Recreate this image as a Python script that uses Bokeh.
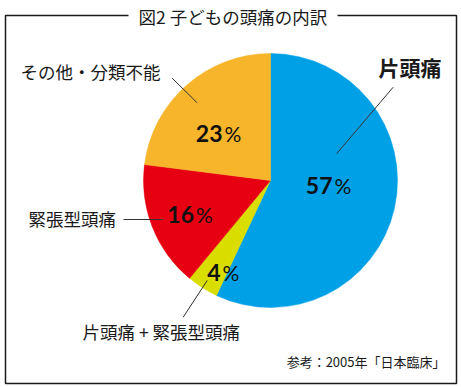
import math
from bokeh.plotting import figure
from bokeh.models import Range1d, ColumnDataSource
from bokeh.core.properties import value
from bokeh.embed import file_html
from bokeh.resources import INLINE

# ---- data ----
categories = ["片頭痛", "片頭痛 + 緊張型頭痛", "緊張型頭痛", "その他・分類不能"]
shares = [57, 4, 16, 23]
colors = ["#00a0e6", "#d9dd00", "#e60012", "#f7b52c"]
title_text = "図2 子どもの頭痛の内訳"
source_text = "参考：2005年「日本臨床」"

# ---- layout (reference pixel coordinates, y downward) ----
W, H = 461, 387
JP = "Noto Sans CJK JP"
NUM = "Lato"
def Y(v):
    return H - v

cx, cy, R = 270, 180, 127

p = figure(width=W, height=H, output_backend="svg",
           toolbar_location=None, x_range=Range1d(0, W),
           y_range=Range1d(0, H), min_border=0)
p.axis.visible = False
p.grid.visible = False
p.outline_line_color = None
p.background_fill_color = "white"
p.border_fill_color = "white"

# wedges from data
total = sum(shares)
starts, ends = [], []
acc = 0
for s in shares:
    starts.append(math.pi / 2 - 2 * math.pi * acc / total)
    acc += s
    ends.append(math.pi / 2 - 2 * math.pi * acc / total)
src = ColumnDataSource(dict(x=[cx] * len(shares), y=[Y(cy)] * len(shares),
                            start=starts, end=ends, color=colors))
p.wedge(x="x", y="y", radius=R, start_angle="start", end_angle="end",
        direction="clock", fill_color="color", line_color="color", line_width=0.5,
        source=src)

# frame with gap for title
p.line([128, 5, 5, 456, 456, 337], [Y(15), Y(15), Y(383), Y(383), Y(15), Y(15)],
       line_color="#1a1a1a", line_width=1.5)
p.text([138], [Y(16)], text=[title_text], text_font=value(JP), text_font_size="17.5px",
       text_baseline="middle", text_align="left", text_color="#1a1a1a")

# percentage labels: (digits right edge x, baseline y)
pct_pos = [(332, 184.5), (220, 272), (193.5, 213.5), (222, 133)]
for (px, py), s in zip(pct_pos, shares):
    p.text([px], [Y(py)], text=[str(s)], text_font=value(NUM), text_font_size="23px",
           text_font_style="bold", text_align="right", text_baseline="alphabetic",
           text_color="#111111")
    p.text([px + 2], [Y(py)], text=["%"], text_font=value(NUM), text_font_size="21px",
           text_align="left", text_baseline="alphabetic", text_color="#111111")

# category labels
cat_pos = [(378, 66, "21px", "bold"), (82, 331, "17.5px", "normal"),
           (28, 218, "17.5px", "normal"), (20, 71, "17.5px", "normal")]
for (lx, ly, fs, st), name in zip(cat_pos, categories):
    p.text([lx], [Y(ly)], text=[name], text_font=value(JP), text_font_size=fs,
           text_font_style=st, text_align="left", text_baseline="middle",
           text_color="#1a1a1a")

# leader lines
leaders = [((392.7, 86.7), (336, 153.3)), ((206.7, 280), (182.7, 316.7)),
           ((123, 219), (163, 219)), ((171.7, 77.7), (196.7, 102.3))]
p.segment(x0=[a[0] for a, b in leaders], y0=[Y(a[1]) for a, b in leaders],
          x1=[b[0] for a, b in leaders], y1=[Y(b[1]) for a, b in leaders],
          line_color="#333333", line_width=1)

p.text([445], [Y(361)], text=[source_text], text_font=value(JP), text_font_size="13px",
       text_align="right", text_baseline="middle", text_color="#1a1a1a")

open("out.html", "w").write(file_html(p, INLINE))
